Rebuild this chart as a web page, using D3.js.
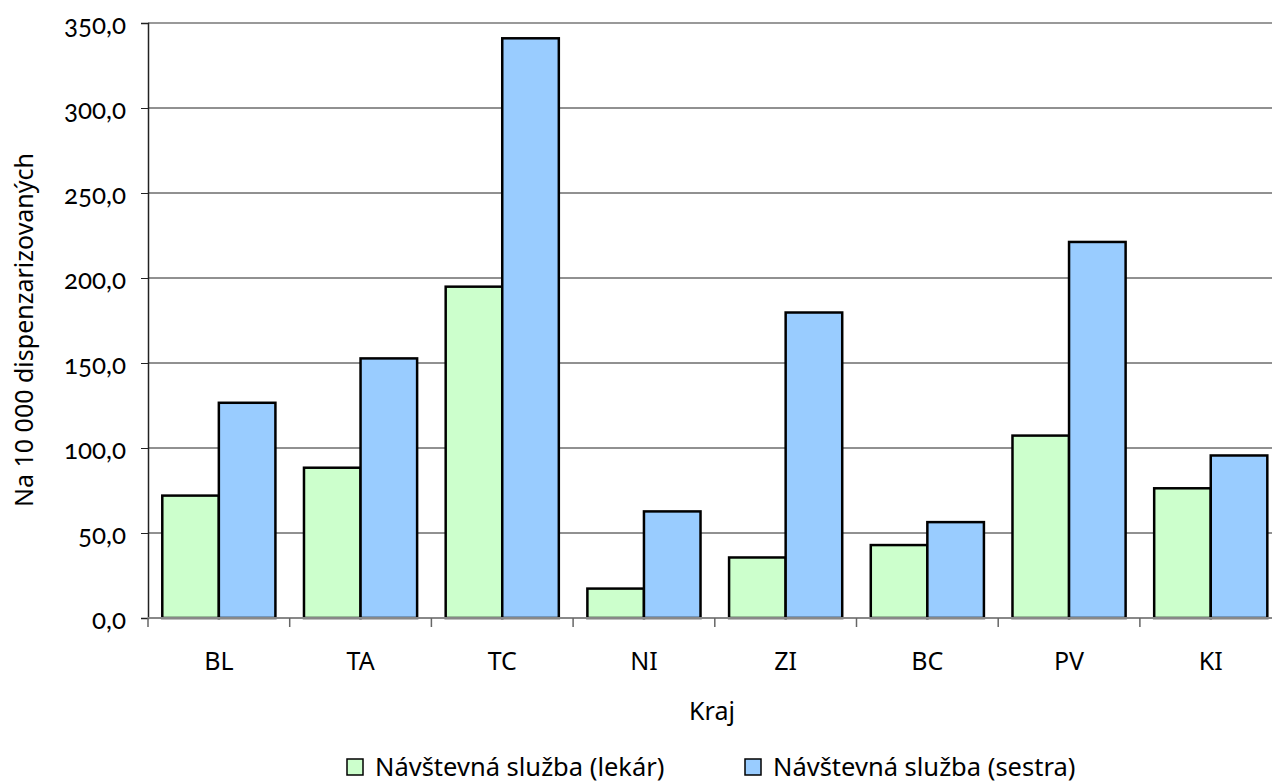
<!DOCTYPE html>
<html><head><meta charset="utf-8">
<script src="https://cdn.jsdelivr.net/npm/d3@7"></script>
<style>body{margin:0;background:#fff;} text{fill:#000;}</style>
</head><body>
<svg id="c" width="1272" height="782"></svg>
<script>
const categories = ["BL","TA","TC","NI","ZI","BC","PV","KI"];
const seriesNames = ["Návštevná služba (lekár)","Návštevná služba (sestra)"];
const lekar  = [72.0, 88.4, 194.9, 17.3, 35.6, 42.9, 107.3, 76.3];
const sestra = [126.6, 152.7, 341.0, 62.7, 179.7, 56.4, 221.2, 95.6];
const yTicks = [0,50,100,150,200,250,300,350];
const colors = ["#ccffcc","#99ccff"];

const svg = d3.select("#c");
const mLeft = 148, mRight = 1281.6, mTop = 23, mBottom = 618;
const x = d3.scaleBand().domain(categories).range([mLeft,mRight]).paddingInner(0).paddingOuter(0);
const x1 = d3.scaleBand().domain([0,1]).range([0,x.bandwidth()]).paddingOuter(0.2525).paddingInner(0);
const y = d3.scaleLinear().domain([0,350]).range([mBottom,mTop]);
const fmt = v => d3.format(".1f")(v).replace(".",",");
const FONT = "'Noto Sans', 'Open Sans', sans-serif";

// gridlines
svg.append("g").selectAll("line").data(yTicks.filter(t=>t>0)).join("line")
  .attr("x1",mLeft).attr("x2",1272).attr("y1",d=>y(d)).attr("y2",d=>y(d))
  .attr("stroke", d=> d===350 ? "#999" : "#222").attr("stroke-width", d=> d===350 ? 2 : 1);

// y axis
const ya = svg.append("g").attr("transform",`translate(${mLeft},0)`)
  .call(d3.axisLeft(y).tickValues(yTicks).tickFormat(fmt).tickSize(7).tickPadding(15));
ya.select(".domain").attr("stroke","#222").attr("stroke-width",1.5);
ya.selectAll(".tick line").attr("stroke","#222");
ya.selectAll("text").attr("font-family","Lato, 'Open Sans', sans-serif").attr("font-size",26)
  .style("font-variant-numeric","oldstyle-nums").attr("dy","0.42em").attr("fill","#000");

// bars
const data = [lekar, sestra];
const g = svg.append("g");
categories.forEach((c,i)=>{
  [0,1].forEach(s=>{
    const v = data[s][i];
    g.append("rect")
      .attr("x", x(c)+x1(s)).attr("width", x1.bandwidth())
      .attr("y", y(v)).attr("height", y(0)-y(v))
      .attr("fill", colors[s]).attr("stroke","#000").attr("stroke-width",2.5);
  });
});

// x axis
const xa = svg.append("g").attr("transform",`translate(0,${mBottom})`)
  .call(d3.axisBottom(x).tickSize(0).tickPadding(0));
xa.select(".domain").remove();
xa.selectAll("text").attr("dy",null).attr("y",52)
  .attr("font-family",FONT).attr("font-size",25).attr("fill","#000");
svg.append("line").attr("x1",mLeft).attr("x2",1272).attr("y1",mBottom).attr("y2",mBottom)
  .attr("stroke","#888").attr("stroke-width",2);
svg.append("g").selectAll("line").data(d3.range(categories.length+1)).join("line")
  .attr("x1",i=>mLeft+i*x.step()).attr("x2",i=>mLeft+i*x.step())
  .attr("y1",mBottom).attr("y2",mBottom+9).attr("stroke","#666").attr("stroke-width",1.5);

// axis titles
svg.append("text").attr("x",712).attr("y",720).attr("text-anchor","middle")
  .attr("font-family",FONT).attr("font-size",25).text("Kraj");
svg.append("text").attr("transform","translate(33,330) rotate(-90)").attr("text-anchor","middle")
  .attr("font-family",FONT).attr("font-size",25).text("Na 10 000 dispenzarizovaných");

// legend
const lx = [347, 745];
seriesNames.forEach((n,i)=>{
  svg.append("rect").attr("x",lx[i]).attr("y",759).attr("width",16).attr("height",16)
    .attr("fill",colors[i]).attr("stroke","#000").attr("stroke-width",1.5);
  svg.append("text").attr("x",lx[i]+28).attr("y",776)
    .attr("font-family",FONT).attr("font-size",25.5).text(n);
});
</script>
</body></html>
